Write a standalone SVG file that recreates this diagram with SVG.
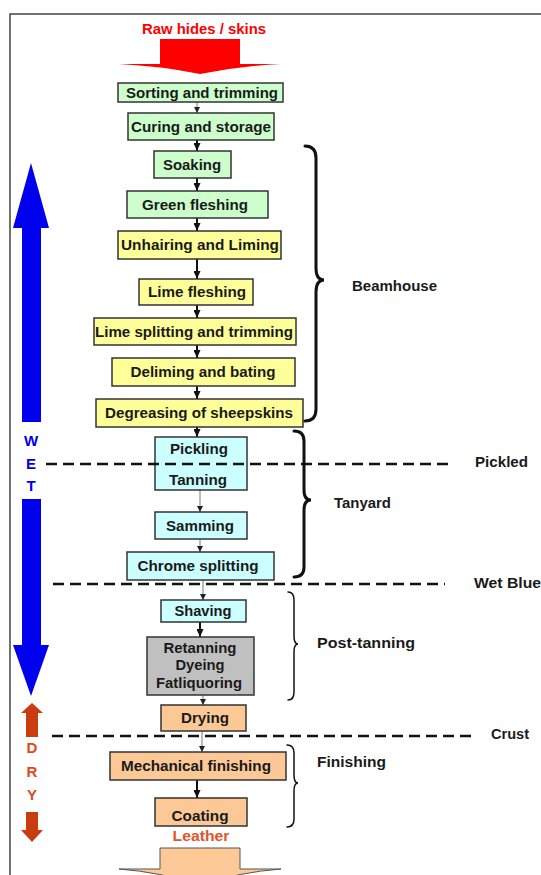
<svg xmlns="http://www.w3.org/2000/svg" width="541" height="875" viewBox="0 0 541 875">
<defs>
<style>
.box{stroke:#333;stroke-width:1.5}
.g{fill:#ccffcc}.y{fill:#ffff99}.c{fill:#ccffff}.gr{fill:#c0c0c0}.o{fill:#fcc896}
.t{font-family:"Liberation Sans",Arial,sans-serif;font-weight:bold;font-size:15px;fill:#1a1a1a;text-anchor:middle}
.l{font-family:"Liberation Sans",Arial,sans-serif;font-weight:bold;font-size:14px;fill:#1a1a1a}
.bk{stroke:#111;stroke-width:2;fill:none}
.th{stroke:#777;stroke-width:1;fill:none}
.dash{stroke:#111;stroke-width:2.5;stroke-dasharray:11 6;fill:none}
.br{stroke:#111;stroke-width:3;fill:none;stroke-linecap:round}
.brt{stroke:#111;stroke-width:1.5;fill:none;stroke-linecap:round}
</style>
<marker id="ah" markerWidth="8" markerHeight="7" refX="8" refY="3.5" orient="auto" markerUnits="userSpaceOnUse"><path d="M0,0 L8,3.5 L0,7 z" fill="#111"/></marker>
<marker id="ahs" markerWidth="6" markerHeight="6" refX="6" refY="3" orient="auto" markerUnits="userSpaceOnUse"><path d="M0,0 L6,3 L0,6 z" fill="#222"/></marker>
</defs>
<rect x="0" y="0" width="541" height="875" fill="#fff"/>
<path d="M10,880 L10,14 L545,14" fill="none" stroke="#444" stroke-width="1.5"/>

<g id="raw-input">
<text class="t" x="204" y="34" style="fill:#ff0000" textLength="124" lengthAdjust="spacingAndGlyphs">Raw hides / skins</text>
<path d="M160,39 L240,39 L240,64 L281,64 Q240,66 200,74 Q160,66 119,64 L160,64 Z" fill="#ff0000"/>
</g>

<g id="connectors">
<path class="th" d="M197,102 L197,113" marker-end="url(#ahs)"/>
<path class="bk" d="M197,140 L197,151" marker-end="url(#ah)"/>
<path class="bk" d="M197,178 L197,191" marker-end="url(#ah)"/>
<path class="bk" d="M197,218 L197,231" marker-end="url(#ah)"/>
<path class="bk" d="M197,259 L197,279" marker-end="url(#ah)"/>
<path class="bk" d="M197,305 L197,318" marker-end="url(#ah)"/>
<path class="bk" d="M197,345 L197,358" marker-end="url(#ah)"/>
<path class="bk" d="M197,386 L197,399" marker-end="url(#ah)"/>
<path class="bk" d="M197,427 L197,437" marker-end="url(#ah)"/>
<path class="th" d="M200,490 L200,512" marker-end="url(#ahs)"/>
<path class="th" d="M200,539 L200,552" marker-end="url(#ahs)"/>
<path class="th" d="M203,580 L203,600" marker-end="url(#ahs)"/>
<path class="bk" d="M200,622 L200,637" marker-end="url(#ah)"/>
<path class="th" d="M203,695 L203,705" marker-end="url(#ahs)"/>
<path class="th" d="M202,731 L202,752" marker-end="url(#ahs)"/>
<path class="bk" d="M197,780 L197,798" marker-end="url(#ah)"/>
</g>

<g id="sorting"><rect class="box g" x="118" y="83" width="165" height="19"/><text class="t" x="202" y="98" textLength="152" lengthAdjust="spacingAndGlyphs">Sorting and trimming</text></g>
<g id="curing"><rect class="box g" x="128" y="113" width="146" height="27"/><text class="t" x="201" y="132" textLength="140" lengthAdjust="spacingAndGlyphs">Curing and storage</text></g>
<g id="soaking"><rect class="box g" x="154" y="151" width="77" height="27"/><text class="t" x="192" y="170" textLength="58" lengthAdjust="spacingAndGlyphs">Soaking</text></g>
<g id="green-fleshing"><rect class="box g" x="127" y="191" width="141" height="27"/><text class="t" x="195" y="210" textLength="106" lengthAdjust="spacingAndGlyphs">Green fleshing</text></g>
<g id="unhairing"><rect class="box y" x="118" y="231" width="163" height="28"/><text class="t" x="200" y="250" textLength="158" lengthAdjust="spacingAndGlyphs">Unhairing and Liming</text></g>
<g id="lime-fleshing"><rect class="box y" x="139" y="279" width="114" height="26"/><text class="t" x="197" y="297" textLength="98" lengthAdjust="spacingAndGlyphs">Lime fleshing</text></g>
<g id="lime-splitting"><rect class="box y" x="94" y="318" width="202" height="27"/><text class="t" x="194" y="337" textLength="198" lengthAdjust="spacingAndGlyphs">Lime splitting and trimming</text></g>
<g id="deliming"><rect class="box y" x="112" y="358" width="183" height="28"/><text class="t" x="203" y="377" textLength="145" lengthAdjust="spacingAndGlyphs">Deliming and bating</text></g>
<g id="degreasing"><rect class="box y" x="96" y="399" width="207" height="28" stroke-width="2"/><text class="t" x="199" y="418" textLength="188" lengthAdjust="spacingAndGlyphs">Degreasing of sheepskins</text></g>
<g id="pickling-tanning"><rect class="box c" x="155" y="437" width="92" height="53"/><text class="t" x="199" y="454" textLength="58" lengthAdjust="spacingAndGlyphs">Pickling</text><text class="t" x="198" y="485" textLength="58" lengthAdjust="spacingAndGlyphs">Tanning</text></g>
<g id="samming"><rect class="box c" x="155" y="512" width="92" height="27"/><text class="t" x="200" y="531" textLength="68" lengthAdjust="spacingAndGlyphs">Samming</text></g>
<g id="chrome-splitting"><rect class="box c" x="127" y="552" width="147" height="28"/><text class="t" x="198" y="571" textLength="121" lengthAdjust="spacingAndGlyphs">Chrome splitting</text></g>
<g id="shaving"><rect class="box c" x="161" y="600" width="85" height="22"/><text class="t" x="203" y="616" textLength="57" lengthAdjust="spacingAndGlyphs">Shaving</text></g>
<g id="retanning"><rect class="box gr" x="147" y="637" width="107" height="58"/><text class="t" x="200" y="653" textLength="73" lengthAdjust="spacingAndGlyphs">Retanning</text><text class="t" x="200" y="670" textLength="49" lengthAdjust="spacingAndGlyphs">Dyeing</text><text class="t" x="199" y="688" textLength="86" lengthAdjust="spacingAndGlyphs">Fatliquoring</text></g>
<g id="drying"><rect class="box o" x="161" y="705" width="85" height="26"/><text class="t" x="205" y="723" textLength="48" lengthAdjust="spacingAndGlyphs">Drying</text></g>
<g id="mechanical-finishing"><rect class="box o" x="110" y="752" width="176" height="28"/><text class="t" x="196" y="771" textLength="150" lengthAdjust="spacingAndGlyphs">Mechanical finishing</text></g>
<g id="coating"><rect class="box o" x="155" y="798" width="92" height="28"/><text class="t" x="200" y="821" textLength="57" lengthAdjust="spacingAndGlyphs">Coating</text></g>

<g id="leather-output">
<text class="t" x="201" y="841" style="fill:#e0552a" textLength="57" lengthAdjust="spacingAndGlyphs">Leather</text>
<path d="M160,848 L240,848 L240,869 L281,869 Q240,872 200,885 Q160,872 119,869 L160,869 Z" fill="#fcc896" stroke="#555" stroke-width="1"/>
</g>

<g id="stage-lines">
<path class="dash" d="M46,464 L448,464"/>
<path class="dash" d="M53,584 L445,584"/>
<path class="dash" d="M52,736 L472,736"/>
<text class="l" x="475" y="467" textLength="53" lengthAdjust="spacingAndGlyphs">Pickled</text>
<text class="l" x="474" y="588" textLength="67" lengthAdjust="spacingAndGlyphs">Wet Blue</text>
<text class="l" x="491" y="739" textLength="38" lengthAdjust="spacingAndGlyphs">Crust</text>
</g>

<g id="beamhouse">
<path class="br" d="M305,146 Q316,146 316,158 L316,268 Q316,280 324,280 Q316,280 316,292 L316,409 Q316,421 305,421"/>
<text class="l" x="352" y="291" textLength="85" lengthAdjust="spacingAndGlyphs">Beamhouse</text>
</g>
<g id="tanyard">
<path class="br" d="M294,431 Q304,431 304,441 L304,490 Q304,500 311,500 Q304,500 304,510 L304,567 Q304,577 294,577"/>
<text class="l" x="334" y="508" textLength="57" lengthAdjust="spacingAndGlyphs">Tanyard</text>
</g>
<g id="post-tanning">
<path class="brt" d="M288,592 Q294,592 294,600 L294,636 Q294,644 298,644 Q294,644 294,652 L294,692 Q294,700 288,700"/>
<text class="l" x="317" y="648" textLength="98" lengthAdjust="spacingAndGlyphs">Post-tanning</text>
</g>
<g id="finishing">
<path class="brt" d="M287,745 Q294,745 294,753 L294,775 Q294,783 298,783 Q294,783 294,791 L294,819 Q294,827 287,827"/>
<text class="l" x="317" y="767" textLength="69" lengthAdjust="spacingAndGlyphs">Finishing</text>
</g>

<g id="wet-indicator">
<path d="M31,163 L49,228 L41,228 L41,422 L22,422 L22,228 L13,228 Z" fill="#0000ee"/>
<path d="M22,499 L41,499 L41,645 L49,645 L31,696 L13,645 L22,645 Z" fill="#0000ee"/>
<text class="t" x="31" y="446" style="fill:#0000ee">W</text>
<text class="t" x="31" y="469" style="fill:#0000ee">E</text>
<text class="t" x="31" y="491" style="fill:#0000ee">T</text>
</g>
<g id="dry-indicator">
<path d="M32,703 L43,713 L38,713 L38,737 L26,737 L26,713 L21,713 Z" fill="#c83c10"/>
<path d="M26,812 L38,812 L38,830 L43,830 L32,842 L21,830 L26,830 Z" fill="#c83c10"/>
<text class="t" x="32" y="753" style="fill:#e04a1a">D</text>
<text class="t" x="32" y="777" style="fill:#e04a1a">R</text>
<text class="t" x="32" y="800" style="fill:#e04a1a">Y</text>
</g>
</svg>
